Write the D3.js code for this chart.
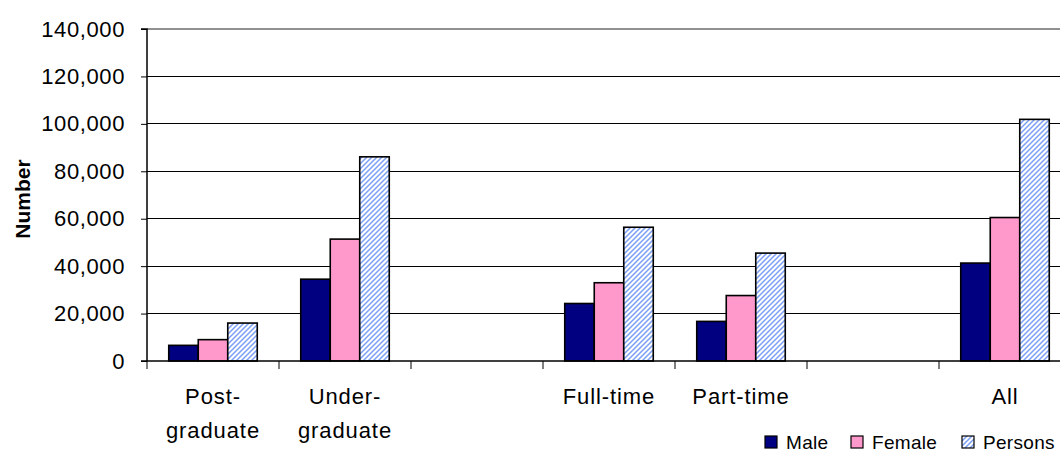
<!DOCTYPE html>
<html>
<head>
<meta charset="utf-8">
<script src="https://cdn.jsdelivr.net/npm/d3@7"></script>
<style>
  body { margin: 0; background: #fff; }
  svg { display: block; font-family: "Liberation Sans", Arial, sans-serif; }
</style>
</head>
<body>
<svg id="chart" width="1060" height="454"></svg>
<script>
// data
const categories = ["Post-graduate", "Under-graduate", "gap1", "Full-time", "Part-time", "gap2", "All"];
const catLabels = [["Post-", "graduate"], ["Under-", "graduate"], [], ["Full-time"], ["Part-time"], [], ["All"]];
const dataCats = ["Post-graduate", "Under-graduate", "Full-time", "Part-time", "All"];
const series = ["Male", "Female", "Persons"];
const male    = [6600, 34500, 24250, 16700, 41300];
const female  = [9000, 51400, 33000, 27600, 60500];
const persons = [16000, 86100, 56400, 45500, 101900];
const yTicks = [0, 20000, 40000, 60000, 80000, 100000, 120000, 140000];

const width = 1060, height = 454;
const padding = {top: 29, left: 147, bottom: 361};
const plotRight = padding.left + 132 * categories.length;

const MaleCol = "#000080";
const FemCol = "#FF99CC";
const HatchCol = "#7a9ff5";

const svg = d3.select("#chart");

// hatch pattern for persons
const defs = svg.append("defs");
const pat = defs.append("pattern")
  .attr("id", "hatch")
  .attr("patternUnits", "userSpaceOnUse")
  .attr("width", 5).attr("height", 5);
pat.append("rect").attr("width", 5).attr("height", 5).attr("fill", "#fff");
pat.append("path")
  .attr("d", "M-1,1 l2,-2 M0,5 l5,-5 M4,6 l2,-2")
  .attr("stroke", HatchCol)
  .attr("stroke-width", 1.5);

// scales
const x = d3.scaleBand().domain(categories).range([padding.left, plotRight]);
const xInner = d3.scaleBand().domain(series).range([0, x.bandwidth()]).paddingOuter(0.737);
const y = d3.scaleLinear().domain([0, 140000]).range([padding.bottom, padding.top]);

// gridlines
svg.append("g")
  .selectAll("line")
  .data(yTicks.filter(d => d > 0))
  .join("line")
    .attr("x1", padding.left).attr("x2", plotRight)
    .attr("y1", d => y(d)).attr("y2", d => y(d))
    .attr("stroke", "#000").attr("stroke-width", 1)
    .attr("shape-rendering", "crispEdges");

// plot border (top)
svg.append("line")
  .attr("x1", padding.left).attr("x2", plotRight)
  .attr("y1", padding.top).attr("y2", padding.top)
  .attr("stroke", "#909090").attr("stroke-width", 2);

// bars
const rows = dataCats.map((c, i) => ({cat: c, vals: [male[i], female[i], persons[i]]}));
const fills = [MaleCol, FemCol, "url(#hatch)"];

svg.append("g")
  .selectAll("g")
  .data(rows)
  .join("g")
    .attr("transform", d => "translate(" + x(d.cat) + ",0)")
  .selectAll("rect")
  .data(d => d.vals.map((v, j) => ({s: series[j], v: v, j: j})))
  .join("rect")
    .attr("x", d => xInner(d.s))
    .attr("y", d => y(d.v))
    .attr("width", xInner.bandwidth())
    .attr("height", d => y(0) - y(d.v))
    .attr("fill", d => fills[d.j])
    .attr("stroke", "#000")
    .attr("stroke-width", 1.6);

// y axis
const yAxis = d3.axisLeft(y).tickValues(yTicks).tickFormat(d3.format(",")).tickSize(6).tickPadding(16);
const ya = svg.append("g")
  .attr("class", "axis y")
  .attr("transform", "translate(" + padding.left + ",0)")
  .call(yAxis);
ya.select(".domain").attr("stroke", "#000").attr("stroke-width", 1.5).attr("d", "M-6," + y(140000) + "H0V" + y(0));
ya.selectAll(".tick line").attr("stroke", "#000");
ya.selectAll("text")
  .attr("fill", "#000")
  .style("font-size", "22px")
  .style("font-family", "Liberation Sans, Arial, sans-serif")
  .style("letter-spacing", "0.6px");

// x axis
svg.append("line")
  .attr("x1", padding.left - 6).attr("x2", plotRight)
  .attr("y1", y(0)).attr("y2", y(0))
  .attr("stroke", "#000").attr("stroke-width", 1.5);

svg.append("g")
  .selectAll("line")
  .data(categories)
  .join("line")
    .attr("x1", d => x(d)).attr("x2", d => x(d))
    .attr("y1", y(0)).attr("y2", y(0) + 8)
    .attr("stroke", "#000").attr("stroke-width", 1);

const lab = svg.append("g")
  .selectAll("text")
  .data(categories)
  .join("text")
    .attr("x", d => x(d) + x.bandwidth() / 2)
    .attr("y", 404)
    .attr("text-anchor", "middle")
    .style("font-size", "22px")
    .style("letter-spacing", "0.9px");
lab.selectAll("tspan")
  .data((d, i) => catLabels[i])
  .join("tspan")
    .attr("x", function() { return this.parentNode.getAttribute("x"); })
    .attr("dy", (d, i) => i === 0 ? 0 : 34)
    .text(d => d);

// y title
svg.append("text")
  .attr("transform", "translate(30,199) rotate(-90)")
  .attr("text-anchor", "middle")
  .style("font-size", "21px")
  .style("font-weight", "bold")
  .text("Number");

// legend
const legX = [765, 851, 962];
const leg = svg.append("g")
  .selectAll("g")
  .data(series)
  .join("g")
    .attr("transform", (d, i) => "translate(" + legX[i] + ",436)");
leg.append("rect")
  .attr("width", 12).attr("height", 12)
  .attr("fill", (d, i) => fills[i])
  .attr("stroke", "#000").attr("stroke-width", 1.2);
leg.append("text")
  .attr("x", 21).attr("y", 13)
  .style("font-size", "19px")
  .style("letter-spacing", "0.3px")
  .text(d => d);
</script>
</body>
</html>
